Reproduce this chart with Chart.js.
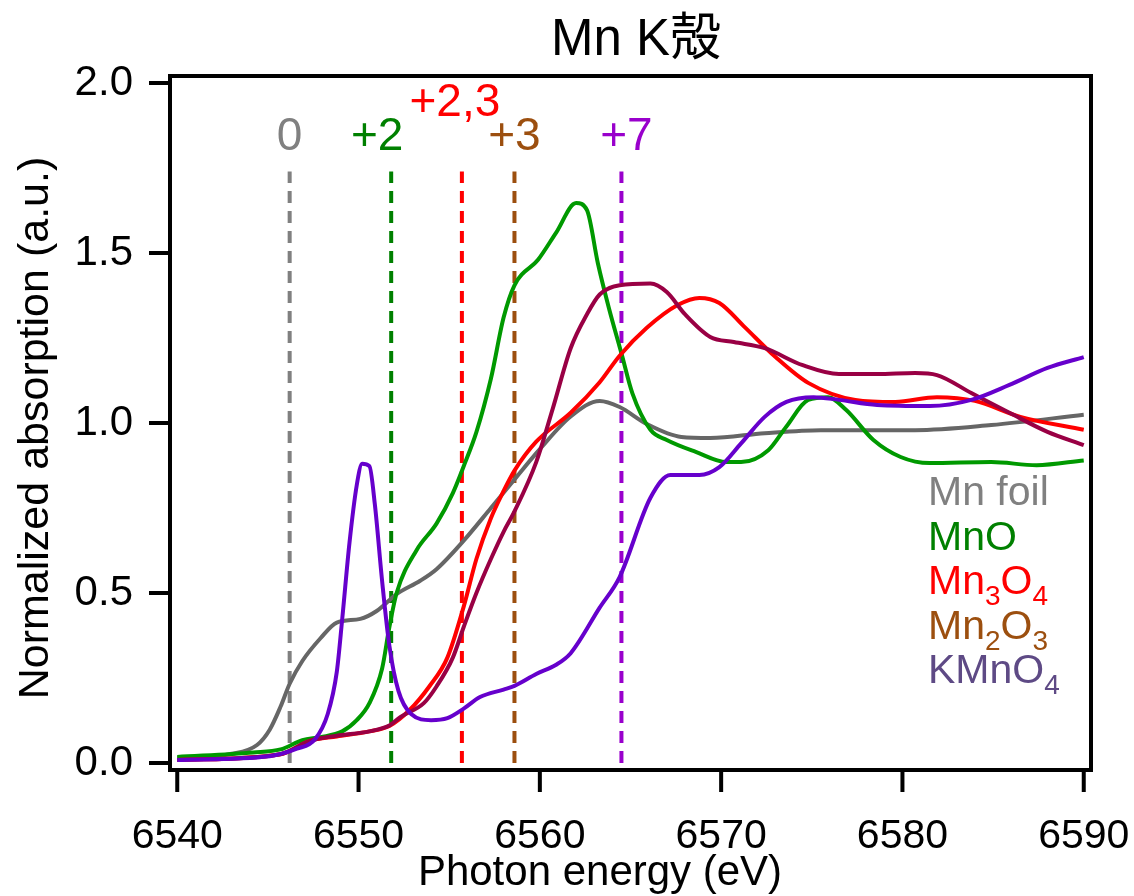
<!DOCTYPE html>
<html>
<head>
<meta charset="utf-8">
<script src="https://cdn.jsdelivr.net/npm/chart.js@4.4.1/dist/chart.umd.min.js"></script>
<style>
  body { margin: 0; background: #fff; }
  #wrap { width: 1134px; height: 896px; }
</style>
</head>
<body>
<div id="wrap"><canvas id="c" width="1134" height="896"></canvas></div>
<script>
// Mn K-edge XANES
const foilE = [6540, 6543, 6544.4, 6545.1, 6545.7, 6546.2, 6546.9, 6547.9, 6548.8, 6550.1, 6551.0, 6552.1, 6553.4, 6554.3, 6555.8, 6557.3, 6558.6, 6560.0, 6561.7, 6563.3, 6564.4, 6565.9, 6567.8, 6569.4, 6572.4, 6575.5, 6580.7, 6584.9, 6590];
const foilA = [0.015, 0.027, 0.053, 0.098, 0.166, 0.233, 0.30, 0.367, 0.413, 0.424, 0.447, 0.497, 0.536, 0.57, 0.654, 0.75, 0.834, 0.923, 1.019, 1.065, 1.047, 0.997, 0.959, 0.956, 0.97, 0.979, 0.979, 0.994, 1.024];

const mnoE = [6540, 6544.2, 6545.7, 6546.9, 6547.9, 6549.1, 6549.9, 6550.6, 6551.3, 6551.7, 6552.1, 6553.2, 6554.3, 6555.2, 6555.8, 6556.5, 6557.3, 6558.0, 6558.6, 6559.9, 6560.9, 6562.0, 6562.6, 6563.2, 6563.8, 6564.5, 6565.1, 6566.1, 6567.0, 6568.6, 6570.3, 6571.1, 6572.6, 6573.6, 6574.8, 6575.9, 6576.9, 6578.4, 6579.9, 6581.5, 6584.9, 6587.4, 6590];
const mnoA = [0.018, 0.031, 0.04, 0.067, 0.076, 0.093, 0.126, 0.176, 0.278, 0.40, 0.50, 0.626, 0.704, 0.794, 0.873, 0.973, 1.13, 1.31, 1.405, 1.48, 1.56, 1.647, 1.626, 1.47, 1.34, 1.205, 1.088, 0.98, 0.95, 0.915, 0.885, 0.885, 0.92, 0.99, 1.068, 1.076, 1.038, 0.95, 0.90, 0.882, 0.885, 0.876, 0.89];

const mn3o4E = [6540, 6545.7, 6547.3, 6548.8, 6550.6, 6551.7, 6552.8, 6553.9, 6554.9, 6555.8, 6556.5, 6557.3, 6558.0, 6558.6, 6559.8, 6561.7, 6563.3, 6564.4, 6565.9, 6567.6, 6568.8, 6569.9, 6571.3, 6573.0, 6574.8, 6577.4, 6579.6, 6581.9, 6584.0, 6586.5, 6590];
const mn3o4A = [0.009, 0.026, 0.065, 0.078, 0.093, 0.109, 0.155, 0.225, 0.31, 0.46, 0.60, 0.72, 0.80, 0.86, 0.945, 1.03, 1.12, 1.198, 1.28, 1.347, 1.368, 1.353, 1.282, 1.194, 1.118, 1.068, 1.062, 1.076, 1.065, 1.018, 0.98];

const mn2o3E = [6540, 6545.7, 6547.3, 6548.8, 6550.6, 6551.7, 6552.3, 6553.6, 6554.3, 6555.2, 6555.8, 6556.5, 6557.3, 6558.0, 6558.6, 6559.8, 6560.7, 6561.7, 6562.6, 6563.3, 6564.4, 6566.1, 6567.0, 6568.0, 6569.4, 6570.7, 6572.4, 6574.5, 6576.5, 6578.6, 6580.7, 6581.9, 6583.8, 6585.9, 6588.0, 6590];
const mn2o3A = [0.009, 0.026, 0.065, 0.08, 0.093, 0.11, 0.135, 0.176, 0.225, 0.31, 0.40, 0.50, 0.60, 0.68, 0.74, 0.885, 1.04, 1.22, 1.32, 1.378, 1.405, 1.41, 1.385, 1.32, 1.253, 1.238, 1.22, 1.17, 1.144, 1.144, 1.147, 1.141, 1.088, 1.03, 0.974, 0.935];

const kmno4E = [6540, 6545.1, 6546.6, 6547.6, 6548.3, 6548.8, 6549.1, 6549.5, 6549.9, 6550.2, 6550.6, 6550.9, 6551.3, 6551.7, 6552.2, 6552.9, 6554.0, 6554.9, 6555.8, 6556.7, 6558.0, 6558.6, 6559.8, 6560.9, 6561.7, 6563.3, 6564.4, 6566.1, 6567.2, 6568.8, 6569.9, 6571.1, 6572.4, 6573.6, 6575.1, 6576.5, 6578.6, 6581.5, 6583.8, 6585.9, 6588.0, 6590];
const kmno4A = [0.009, 0.02, 0.042, 0.07, 0.144, 0.268, 0.424, 0.648, 0.817, 0.88, 0.873, 0.76, 0.535, 0.345, 0.212, 0.144, 0.126, 0.132, 0.16, 0.194, 0.216, 0.227, 0.262, 0.289, 0.323, 0.457, 0.547, 0.78, 0.847, 0.847, 0.87, 0.94, 1.018, 1.062, 1.076, 1.068, 1.053, 1.05, 1.068, 1.112, 1.162, 1.194];

// oxidation-state reference edges (dashed lines)
const refLabels = ['0', '+2', '+2,3', '+3', '+7'];
const refE = [6546.2, 6551.8, 6555.7, 6558.6, 6564.5];
const refTop = 1.74;

const xTicks = [6540, 6550, 6560, 6570, 6580, 6590];
const yTicks = [0, 0.5, 1.0, 1.5, 2.0];

const FONT = '"Liberation Sans", Arial, "Noto Sans CJK JP", sans-serif';

const curveColors = ['#666666', '#009900', '#ff0000', '#990044', '#6600cc'];
const refColors = ['#808080', '#008000', '#ff0000', '#9c4f0f', '#9900cc'];
// label offsets for the reference markers (pixels)
const refLabelPos = [
  { dx: 0, y: 150 }, { dx: -14, y: 150 }, { dx: -7, y: 116 }, { dx: 0, y: 150 }, { dx: 5, y: 150 }
];

// legend text: [text, subscript] pieces
const legendItems = [
  { parts: [['Mn foil', 0]], color: '#808080' },
  { parts: [['MnO', 0]], color: '#008000' },
  { parts: [['Mn', 0], ['3', 1], ['O', 0], ['4', 1]], color: '#ff0000' },
  { parts: [['Mn', 0], ['2', 1], ['O', 0], ['3', 1]], color: '#9c4f0f' },
  { parts: [['KMn', 0], ['O', 0], ['4', 1]], color: '#5e4a85' }
];

function pts(e, a) {
  return e.map((v, i) => ({ x: v, y: a[i] }));
}

const curves = [
  [foilE, foilA], [mnoE, mnoA], [mn3o4E, mn3o4A], [mn2o3E, mn2o3A], [kmno4E, kmno4A]
];

const datasets = [];
curves.forEach((c, i) => {
  datasets.push({
    data: pts(c[0], c[1]),
    borderColor: curveColors[i],
    borderWidth: 4,
    pointRadius: 0,
    cubicInterpolationMode: 'monotone',
    order: 5 - i
  });
});
refE.forEach((e, i) => {
  datasets.push({
    data: [{ x: e, y: 0 }, { x: e, y: refTop }],
    borderColor: refColors[i],
    borderWidth: 4,
    borderDash: [12, 8],
    pointRadius: 0,
    order: 10
  });
});

const framePlugin = {
  id: 'frame',
  afterDraw(chart) {
    const ctx = chart.ctx;
    const a = chart.chartArea;
    const xs = chart.scales.x, ys = chart.scales.y;
    ctx.save();
    ctx.strokeStyle = '#000';
    ctx.lineWidth = 4;
    ctx.strokeRect(a.left, a.top, a.right - a.left, a.bottom - a.top);
    // tick marks outside the frame
    ctx.beginPath();
    xTicks.forEach(v => {
      const p = xs.getPixelForValue(v);
      ctx.moveTo(p, a.bottom);
      ctx.lineTo(p, a.bottom + 22);
    });
    yTicks.forEach(v => {
      const p = ys.getPixelForValue(v);
      ctx.moveTo(a.left, p);
      ctx.lineTo(a.left - 21, p);
    });
    ctx.stroke();

    // title
    ctx.fillStyle = '#000';
    ctx.textAlign = 'center';
    ctx.textBaseline = 'alphabetic';
    ctx.font = '51px ' + FONT;
    ctx.fillText('Mn K殻', 636, 55);

    // axis titles
    ctx.font = '42px ' + FONT;
    ctx.fillText('Photon energy (eV)', 600, 885);
    ctx.save();
    ctx.translate(48, 428);
    ctx.rotate(-Math.PI / 2);
    ctx.font = '43px ' + FONT;
    ctx.fillText('Normalized absorption (a.u.)', 0, 0);
    ctx.restore();

    // reference labels
    ctx.font = '46px ' + FONT;
    refLabels.forEach((t, i) => {
      ctx.fillStyle = refColors[i];
      ctx.fillText(t, xs.getPixelForValue(refE[i]) + refLabelPos[i].dx, refLabelPos[i].y);
    });

    // legend text
    ctx.textAlign = 'left';
    legendItems.forEach((it, i) => {
      let x = 928;
      const y = 505 + i * 44.5;
      ctx.fillStyle = it.color;
      it.parts.forEach(p => {
        if (p[1]) {
          ctx.font = '28px ' + FONT;
          ctx.fillText(p[0], x, y + 11);
        } else {
          ctx.font = '41px ' + FONT;
          ctx.fillText(p[0], x, y);
        }
        x += ctx.measureText(p[0]).width;
      });
    });
    ctx.restore();
  }
};

new Chart(document.getElementById('c'), {
  type: 'line',
  data: { datasets: datasets },
  options: {
    responsive: false,
    animation: false,
    layout: { padding: { left: 0, right: 43, top: 76, bottom: 0 } },
    plugins: { legend: { display: false }, tooltip: { enabled: false } },
    scales: {
      x: {
        type: 'linear',
        min: 6539.6,
        max: 6590.4,
        afterBuildTicks: s => { s.ticks = xTicks.map(v => ({ value: v })); },
        afterFit: s => { s.height = 126; s.paddingLeft = 0; s.paddingRight = 0; },
        grid: { display: false },
        border: { display: false },
        ticks: {
          color: '#000',
          font: { family: FONT, size: 41 },
          padding: 34,
          maxRotation: 0,
          autoSkip: false,
          callback: v => String(v)
        }
      },
      y: {
        type: 'linear',
        min: -0.0206,
        max: 2.0206,
        afterBuildTicks: s => { s.ticks = yTicks.map(v => ({ value: v })); },
        afterFit: s => { s.width = 170; s.paddingTop = 0; s.paddingBottom = 0; },
        grid: { display: false },
        border: { display: false },
        ticks: {
          color: '#000',
          font: { family: FONT, size: 42 },
          padding: 29,
          callback: v => v.toFixed(1)
        }
      }
    }
  },
  plugins: [framePlugin]
});
</script>
</body>
</html>
